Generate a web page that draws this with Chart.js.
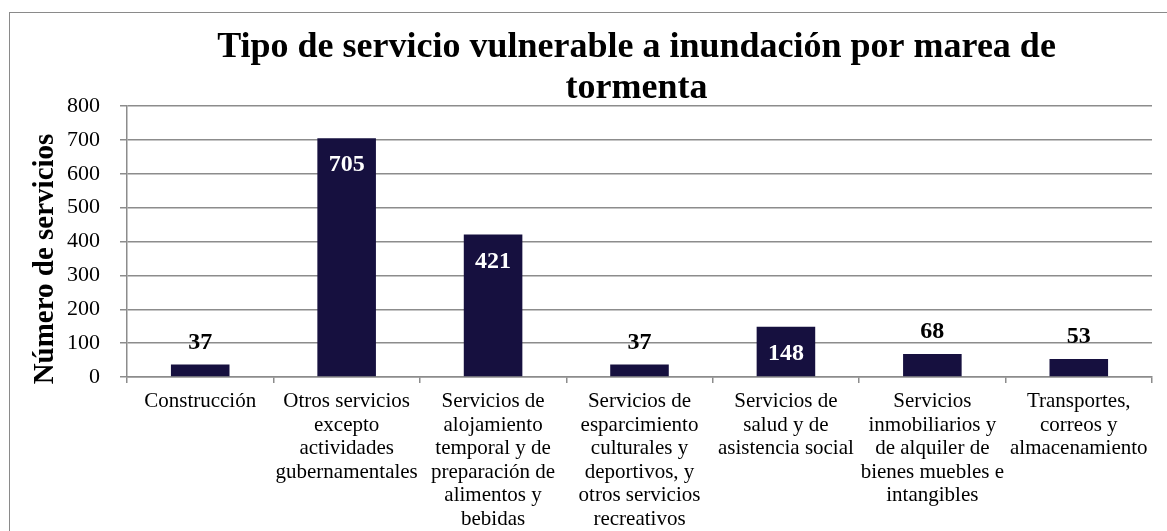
<!DOCTYPE html>
<html>
<head>
<meta charset="utf-8">
<script src="https://cdn.jsdelivr.net/npm/chart.js@4.4.0/dist/chart.umd.min.js"></script>
<style>
    html, body { margin: 0; padding: 0; background: #fff; overflow: hidden; }
    #frame {
        position: absolute; left: 9px; top: 12px; width: 1300px; height: 700px;
        border: 1.5px solid #8a8a8a; box-sizing: border-box;
    }
    #chart { position: absolute; left: 0; top: 0; }
</style>
</head>
<body>
<div id="frame"></div>
<canvas id="chart" width="1167" height="531"></canvas>
<script>
// Chart data
const titleLines = ['Tipo de servicio vulnerable a inundación por marea de', 'tormenta'];
const yAxisTitle = 'Número de servicios';

const categories = [
    ['Construcción'],
    ['Otros servicios', 'excepto', 'actividades', 'gubernamentales'],
    ['Servicios de', 'alojamiento', 'temporal y de', 'preparación de', 'alimentos y', 'bebidas'],
    ['Servicios de', 'esparcimiento', 'culturales y', 'deportivos, y', 'otros servicios', 'recreativos'],
    ['Servicios de', 'salud y de', 'asistencia social'],
    ['Servicios', 'inmobiliarios y', 'de alquiler de', 'bienes muebles e', 'intangibles'],
    ['Transportes,', 'correos y', 'almacenamiento']
];
const values = [37, 705, 421, 37, 148, 68, 53];

const FONT = "'Liberation Serif', 'Times New Roman', serif";
const GRID = '#8c8c8c';
const BAR = '#16103f';

// Title, y axis title and value labels
const extrasPlugin = {
    id: 'extras',
    afterDraw(chart) {
        const ctx = chart.ctx;
        const area = chart.chartArea;
        ctx.save();

        // title
        ctx.fillStyle = '#000';
        ctx.font = 'bold 36px ' + FONT;
        ctx.textAlign = 'center';
        ctx.textBaseline = 'alphabetic';
        const cx = (area.left + area.right) / 2 - 3;
        ctx.fillText(titleLines[0], cx, 57);
        ctx.fillText(titleLines[1], cx, 98);

        // y axis title
        ctx.save();
        ctx.translate(53, 259);
        ctx.rotate(-Math.PI / 2);
        ctx.font = 'bold 29px ' + FONT;
        ctx.fillText(yAxisTitle, 0, 0);
        ctx.restore();

        // value labels
        const meta = chart.getDatasetMeta(0);
        ctx.font = 'bold 24px ' + FONT;
        ctx.textBaseline = 'middle';
        meta.data.forEach((bar, i) => {
            const v = values[i];
            if (v > 100) {
                ctx.fillStyle = '#fff';
                ctx.fillText(String(v), bar.x, bar.y + 27);
            } else {
                ctx.fillStyle = '#000';
                ctx.fillText(String(v), bar.x, bar.y - 22);
            }
        });
        ctx.restore();
    }
};

new Chart(document.getElementById('chart'), {
    type: 'bar',
    data: {
        labels: categories,
        datasets: [{
            data: values,
            backgroundColor: BAR,
            borderWidth: 0,
            barPercentage: 0.4,
            categoryPercentage: 1
        }]
    },
    options: {
        responsive: false,
        animation: false,
        devicePixelRatio: 1,
        layout: { padding: { top: 106, right: 15, bottom: 0, left: 0 } },
        plugins: {
            legend: { display: false },
            title: { display: false },
            tooltip: { enabled: false }
        },
        scales: {
            x: {
                grid: { drawOnChartArea: false, offset: true, tickLength: 6, color: GRID, lineWidth: 1.5 },
                border: { color: GRID, width: 1.5 },
                ticks: {
                    color: '#000',
                    font: { family: FONT, size: 21, lineHeight: 1.12 },
                    padding: 7,
                    maxRotation: 0,
                    autoSkip: false
                },
                afterFit(scale) { scale.height = 154; }
            },
            y: {
                min: 0,
                max: 800,
                grid: { color: GRID, lineWidth: 1.5, tickLength: 7 },
                border: { color: GRID, width: 1.5 },
                ticks: {
                    stepSize: 100,
                    color: '#000',
                    font: { family: FONT, size: 22 },
                    padding: 20
                },
                afterFit(scale) { scale.width = 127; }
            }
        }
    },
    plugins: [extrasPlugin]
});
</script>
</body>
</html>
